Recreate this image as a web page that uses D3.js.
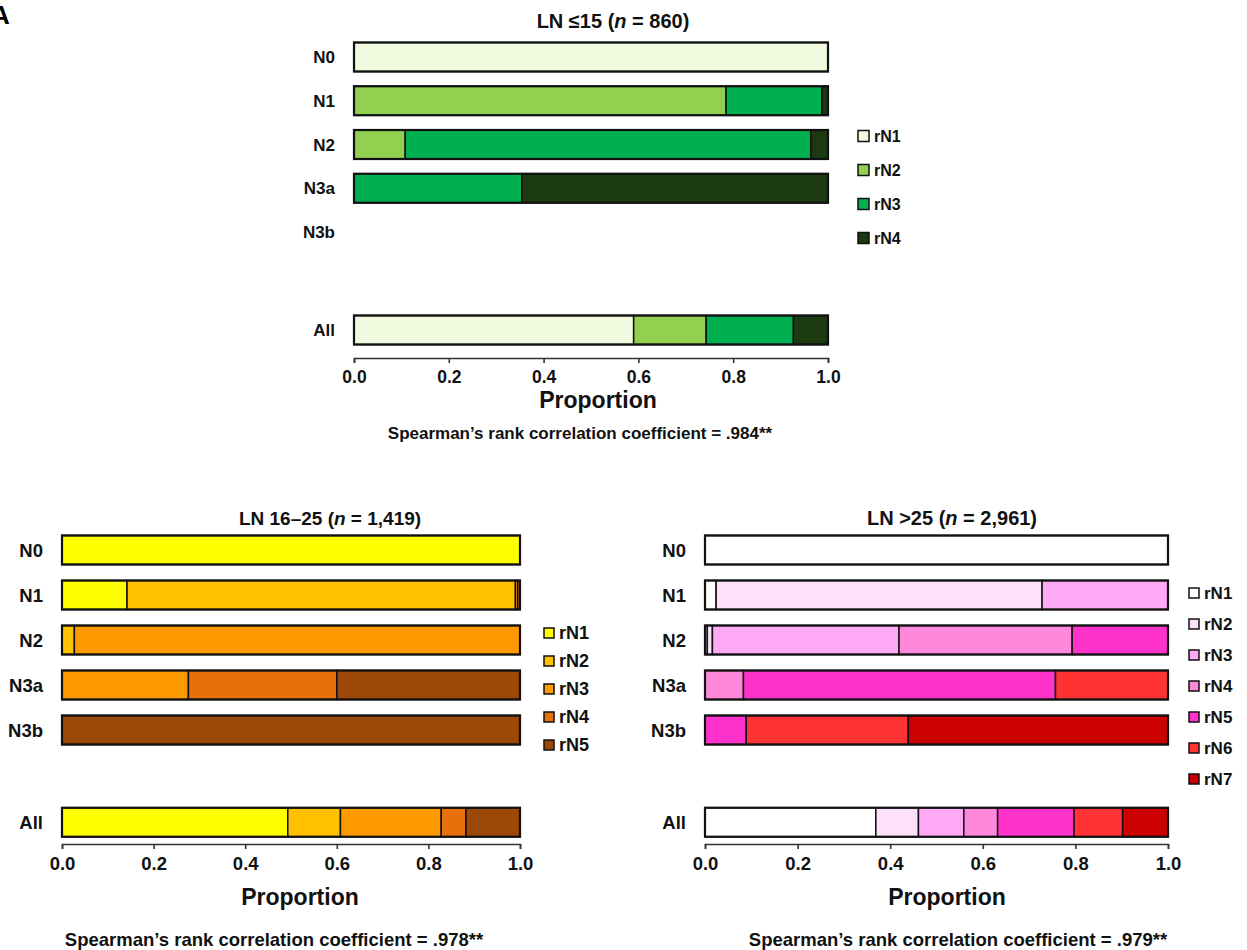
<!DOCTYPE html>
<html>
<head>
<meta charset="utf-8">
<script src="https://cdn.jsdelivr.net/npm/d3@7"></script>
<style>
  body { margin: 0; background: #fff; }
  svg { font-family: "Liberation Sans", Arial, sans-serif; font-weight: bold; }
  .axis path, .axis line { stroke: #333; stroke-width: 1.6; }
  .axis text { font-weight: bold; fill: #111; }
</style>
</head>
<body>
<svg id="chart"></svg>
<script>
// ---- data ----
const rowNames = ["N0", "N1", "N2", "N3a", "N3b", "All"];

// LN <=15
const catsLow = ["rN1", "rN2", "rN3", "rN4"];
const colorsLow = ["#effadf", "#92d050", "#00b050", "#1b3a10"];
const valsLow = [
    [1, 0, 0, 0],
    [0, 0.785, 0.202, 0.013],
    [0, 0.108, 0.856, 0.036],
    [0, 0, 0.354, 0.646],
    [0, 0, 0, 0],
    [0.59, 0.153, 0.184, 0.073]
];

// LN 16-25
const catsMid = ["rN1", "rN2", "rN3", "rN4", "rN5"];
const colorsMid = ["#ffff00", "#ffc000", "#ff9900", "#e8700c", "#9c4808"];
const valsMid = [
    [1, 0, 0, 0, 0],
    [0.142, 0.848, 0.005, 0.005, 0],
    [0, 0.027, 0.973, 0, 0],
    [0, 0, 0.276, 0.324, 0.400],
    [0, 0, 0, 0, 1],
    [0.493, 0.115, 0.220, 0.054, 0.118]
];

// LN >25
const catsHigh = ["rN1", "rN2", "rN3", "rN4", "rN5", "rN6", "rN7"];
const colorsHigh = ["#ffffff", "#fde0fa", "#ffa8f4", "#ff88dc", "#ff33cc", "#ff3333", "#cc0000"];
const valsHigh = [
    [1, 0, 0, 0, 0, 0, 0],
    [0.024, 0.704, 0.272, 0, 0, 0, 0],
    [0.005, 0.011, 0.403, 0.374, 0.207, 0, 0],
    [0, 0, 0, 0.083, 0.674, 0.243, 0],
    [0, 0, 0, 0, 0.089, 0.350, 0.561],
    [0.369, 0.092, 0.098, 0.073, 0.165, 0.105, 0.098]
];

const xTicks = [0, 0.2, 0.4, 0.6, 0.8, 1.0];

// ---- layout ----
const W = 1247, H = 950;
const svg = d3.select("#chart").attr("width", W).attr("height", H);

// panel letter, clipped at the page edge as in the figure
svg.append("text").attr("x", -9).attr("y", 24)
    .attr("font-size", 26).text("A");

const panels = [
    {
        title: ["LN \u226415 (", "n", " = 860)"], titleX: 613, titleY: 28, titleFont: 20,
        coef: ".984**",
        cats: catsLow, colors: colorsLow, vals: valsLow,
        x0: 354, x1: 828, yFirst: 57, step: 43.75, allIdx: 6.24, barH: 29,
        axisY: 358, labX: 335, labFont: 17, tickFont: 17.5,
        legX: 858, legY: 136, legStep: 34, legBox: 11, legFont: 16,
        propX: 598, propY: 408, coefX: 580, coefY: 439, coefFont: 17
    },
    {
        title: ["LN 16\u201325 (", "n", " = 1,419)"], titleX: 330, titleY: 525, titleFont: 19,
        coef: ".978**",
        cats: catsMid, colors: colorsMid, vals: valsMid,
        x0: 62, x1: 520, yFirst: 550, step: 45, allIdx: 6.05, barH: 29,
        axisY: 844, labX: 43, labFont: 18.5, tickFont: 18.5,
        legX: 544, legY: 633, legStep: 28, legBox: 10, legFont: 18,
        propX: 300, propY: 905, coefX: 274, coefY: 946, coefFont: 18.5
    },
    {
        title: ["LN >25 (", "n", " = 2,961)"], titleX: 952, titleY: 525, titleFont: 20,
        coef: ".979**",
        cats: catsHigh, colors: colorsHigh, vals: valsHigh,
        x0: 705, x1: 1168, yFirst: 550, step: 45, allIdx: 6.05, barH: 29,
        axisY: 844, labX: 686, labFont: 18.5, tickFont: 18.5,
        legX: 1189, legY: 593, legStep: 31, legBox: 10, legFont: 17,
        propX: 947, propY: 905, coefX: 958, coefY: 946, coefFont: 18.5
    }
];

panels.forEach(drawPanel);

function drawPanel(p) {
    const g = svg.append("g");

    const x = d3.scaleLinear().domain([0, 1]).range([p.x0, p.x1]);
    const y = d3.scaleLinear().domain([0, 1]).range([p.yFirst, p.yFirst + p.step]);
    const rowIdx = (name, i) => name === "All" ? p.allIdx : i;
    const color = d3.scaleOrdinal().domain(p.cats).range(p.colors);

    // title
    const t = g.append("text").attr("x", p.titleX).attr("y", p.titleY)
        .attr("text-anchor", "middle").attr("font-size", p.titleFont).attr("fill", "#111");
    t.append("tspan").text(p.title[0]);
    t.append("tspan").attr("font-style", "italic").text(p.title[1]);
    t.append("tspan").text(p.title[2]);

    // segments per row
    const rows = rowNames.map((name, i) => {
        const ends = d3.cumsum(p.vals[i]);
        const segs = p.vals[i].map((v, j) => ({
            cat: p.cats[j], a: ends[j] - v, b: ends[j]
        })).filter(s => s.b - s.a > 0);
        return { name, i, segs, total: ends[ends.length - 1] };
    });

    const rowG = g.selectAll(".row")
        .data(rows)
        .join("g")
            .attr("class", "row")
            .attr("transform", d => `translate(0,${y(rowIdx(d.name, d.i))})`);

    rowG.append("text")
        .attr("x", p.labX)
        .attr("dy", "0.36em")
        .attr("text-anchor", "end")
        .attr("font-size", p.labFont)
        .attr("fill", "#111")
        .text(d => d.name);

    rowG.selectAll("rect.seg")
        .data(d => d.segs)
        .join("rect")
            .attr("class", "seg")
            .attr("x", s => x(s.a))
            .attr("width", s => x(s.b) - x(s.a))
            .attr("y", -p.barH / 2)
            .attr("height", p.barH)
            .attr("fill", s => color(s.cat))
            .attr("stroke", "#111")
            .attr("stroke-width", 1.5);

    rowG.filter(d => d.total > 0)
        .append("rect")
            .attr("x", x(0))
            .attr("width", d => x(d.total) - x(0))
            .attr("y", -p.barH / 2)
            .attr("height", p.barH)
            .attr("fill", "none")
            .attr("stroke", "#111")
            .attr("stroke-width", 2.2);

    // axis
    const axis = d3.axisBottom(x)
        .tickValues(xTicks)
        .tickFormat(d3.format(".1f"))
        .tickSizeInner(5)
        .tickSizeOuter(5)
        .tickPadding(8);
    g.append("g")
        .attr("class", "axis")
        .attr("transform", `translate(0,${p.axisY})`)
        .call(axis)
        .selectAll("text")
            .attr("font-size", p.tickFont);

    g.append("text").attr("x", p.propX).attr("y", p.propY)
        .attr("text-anchor", "middle").attr("font-size", 23).attr("fill", "#111")
        .text("Proportion");

    g.append("text").attr("x", p.coefX).attr("y", p.coefY)
        .attr("text-anchor", "middle").attr("font-size", p.coefFont).attr("fill", "#111")
        .text("Spearman\u2019s rank correlation coefficient = " + p.coef);

    // legend
    const leg = g.selectAll(".leg")
        .data(p.cats)
        .join("g")
            .attr("class", "leg")
            .attr("transform", (d, i) => `translate(${p.legX},${p.legY + i * p.legStep})`);
    leg.append("rect")
        .attr("x", 0).attr("y", -p.legBox / 2)
        .attr("width", p.legBox).attr("height", p.legBox)
        .attr("fill", d => color(d))
        .attr("stroke", "#111").attr("stroke-width", 1.5);
    leg.append("text")
        .attr("x", p.legBox + 5)
        .attr("dy", "0.36em")
        .attr("font-size", p.legFont)
        .attr("fill", "#111")
        .text(d => d);
}
</script>
</body>
</html>
